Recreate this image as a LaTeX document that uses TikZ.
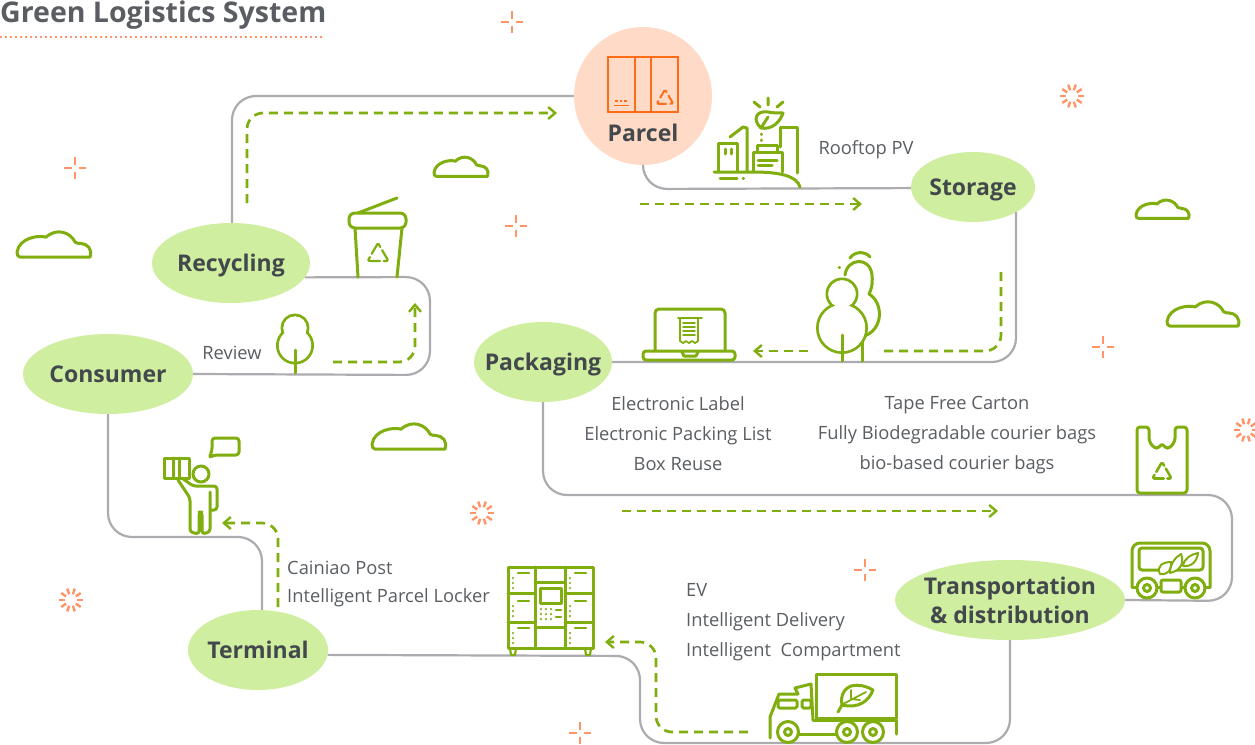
\documentclass[tikz,border=0pt]{standalone}
\usepackage{fontspec}
\setmainfont{Open Sans}
\usetikzlibrary{shapes.geometric,arrows.meta}
\definecolor{leafg}{HTML}{7FAE0E}
\definecolor{bubble}{HTML}{D0EE9F}
\definecolor{roadg}{HTML}{ABABB0}
\definecolor{inkd}{HTML}{43484D}
\definecolor{inkm}{HTML}{5A5E62}
\definecolor{sparko}{HTML}{FF9468}
\definecolor{boxo}{HTML}{FF6C17}
\definecolor{parcelbg}{HTML}{FFDAC6}
\tikzset{
  road/.style={draw=roadg,line width=2.2pt,rounded corners=24pt},
  flow/.style={draw=leafg,line width=2.7pt,dash pattern=on 9pt off 6pt,rounded corners=16pt,-{Straight Barb[length=7pt,width=12pt,line width=2.4pt]}},
  flowplain/.style={draw=leafg,line width=2.7pt,dash pattern=on 9pt off 6pt,rounded corners=16pt},
  stage/.style={ellipse,fill=bubble,inner xsep=-25pt,inner ysep=-12pt,text=inkd,align=center,font=\fontsize{23}{29}\selectfont\bfseries},
  oneline/.style={text height=17pt,text depth=0pt},
  note/.style={text=inkm,align=center,inner sep=0pt,font=\fontsize{18.3}{30}\selectfont},
  icon/.style={draw=leafg,line width=3pt,line join=round,line cap=round},
  sparkline/.style={draw=sparko,line width=2.4pt},
  cloudline/.style={draw=leafg,line width=3pt,line join=round,line cap=round}
}
\newcommand{\plusspark}[2]{\foreach \a in {0,90,180,270}{\draw[sparkline,shift={(#1,#2)},rotate=\a] (3.5,0) -- (11,0);}}
\newcommand{\burstspark}[2]{\foreach \a [count=\i] in {0,36,...,324}{\draw[sparkline,shift={(#1,#2)},rotate=\a] (6,0) -- (12,0);}}
\newcommand{\cloudshape}[4]{\begin{scope}[shift={(#1,#2)},xscale=#3/75,yscale=#4/30]
  \draw[cloudline] (3,29) -- (73,29) .. controls (76,21) and (70,15) .. (64,15) .. controls (62,15) and (60,15) .. (58,13.5) .. controls (54,4) and (40,-2) .. (29,8.5) .. controls (22,6) and (2,9) .. (0,24) .. controls (0,27) and (1,29) .. (3,29);
\end{scope}}
\newcommand{\recyc}[4]{\foreach \a in {0,120,240}{\draw[#4,shift={(#1,#2)},rotate=\a,rounded corners=1.5pt] (-.52*#3,-.1*#3) -- (0,-#3) -- (.19*#3,-.67*#3);}}
\newcommand{\treeoutline}[6]{\draw[icon] (#1,#2) circle[radius=#3]; \draw[icon] (#4,#5) circle[radius=#6];
  \fill[white] (#1,#2) circle[radius=#3-1.3]; \fill[white] (#4,#5) circle[radius=#6-1.3];}
\begin{document}
\begin{tikzpicture}[x=1pt,y=-1pt]
\useasboundingbox (0,0) rectangle (1255,744);
\fill[white] (0,0) rectangle (1255,744);
% title
\node[anchor=base west,inner sep=0pt,text=inkm,font=\fontsize{28.5}{30}\selectfont\bfseries] (title) at (0,22.5) {Green Logistics System};
\draw[draw=sparko,line width=2.2pt,dash pattern=on 2pt off 3pt] (0,37) -- (322,37);
% stages
\node[circle,fill=parcelbg,minimum size=138pt,inner sep=0pt] (parcel) at (643,96) {};
\node[stage,oneline,minimum width=124pt,minimum height=70pt] (storage) at (973,187) {Storage};
\node[stage,oneline,minimum width=158pt,minimum height=80pt] (recycling) at (231,263) {Recycling};
\node[stage,oneline,minimum width=170pt,minimum height=80pt] (consumer) at (108,374) {Consumer};
\node[stage,oneline,minimum width=138pt,minimum height=80pt] (packaging) at (543,362) {Packaging};
\node[stage,minimum width=230pt,minimum height=80pt] (transport) at (1010,600) {Transportation\\\& distribution};
\node[stage,oneline,minimum width=140pt,minimum height=80pt] (terminal) at (258,650) {Terminal};
\node[inner sep=0pt,text=inkd,font=\fontsize{23}{29}\selectfont\bfseries] (parcellabel) at (643,133) {Parcel};
% roads
\coordinate (r1) at (232,96);
\draw[road] (parcel.west) -- (r1) -- (r1 |- recycling.north);
\draw[road] (recycling.-11) -- (430,277) -- (430,375) -- (consumer.-0.7);
\coordinate (r2) at (262,537);
\draw[road] (consumer.south) -- (108,537) -- (r2) -- (r2 |- terminal.north);
\draw[road] (terminal.-4.96) -- (640,656) -- (640,743) -- (1010,743) -- (transport.south);
\draw[road] (transport.-0.5) -- (1232,601) -- (1232,495) -- (543,495) -- (packaging.south);
\coordinate (r3) at (1016,362);
\draw[road] (packaging.east) -- (r3) -- (r3 |- storage.-30);
\draw[road] (storage.181.85) -- (643,189) -- (parcel.south);
% flows
\coordinate (f1a) at (247,203); \coordinate (f1b) at (247,113); \coordinate (f1c) at (557,113);
\draw[flow] (f1a) -- (f1b) -- (f1c);
\coordinate (f2a) at (640,204); \coordinate (f2b) at (862,204);
\draw[flow] (f2a) -- (f2b);
\coordinate (f3a) at (1001,272); \coordinate (f3b) at (1001,351); \coordinate (f3c) at (878,351);
\draw[flowplain] (f3a) -- (f3b) -- (f3c);
\coordinate (f4a) at (808,351); \coordinate (f4b) at (753,351);
\draw[flow] (f4a) -- (f4b);
\coordinate (f5a) at (622,511); \coordinate (f5b) at (998,511);
\draw[flow] (f5a) -- (f5b);
\coordinate (f6a) at (748,732); \coordinate (f6b) at (656,732); \coordinate (f6c) at (656,642); \coordinate (f6d) at (605,642);
\draw[flow] (f6a) -- (f6b) -- (f6c) -- (f6d);
\coordinate (f7a) at (278,607); \coordinate (f7b) at (278,523); \coordinate (f7c) at (222,523);
\draw[flow] (f7a) -- (f7b) -- (f7c);
\coordinate (f8a) at (333,362); \coordinate (f8b) at (415,362); \coordinate (f8c) at (415,303);
\draw[flow] (f8a) -- (f8b) -- (f8c);
% labels
\node[note] (rooftop) at (866,149.5) {Rooftop PV};
\node[note] (review) at (232,353) {Review};
\node[note] (labels) at (678,434) {Electronic Label\\Electronic Packing List\\Box Reuse};
\node[note] (cartons) at (957,435) {Tape Free Carton\\Fully Biodegradable courier bags\\bio-based courier bags};
\node[note,align=left,anchor=west,font=\fontsize{18.3}{28}\selectfont] (cainiao) at (287,584) {Cainiao Post\\Intelligent Parcel Locker};
\node[note,align=left,anchor=west] (ev) at (686,622) {EV\\Intelligent Delivery\\Intelligent\ \ Compartment};
% parcel icon
\draw[draw=boxo,line width=2.8pt] (608,57) rectangle (678,112);
\draw[draw=boxo,line width=2.8pt] (635,57) -- (635,112) (651,57) -- (651,112);
\draw[draw=boxo,line width=2pt,dash pattern=on 2.5pt off 2pt] (615,101) -- (628,101);
\draw[draw=boxo,line width=1.8pt] (614,105.5) -- (629,105.5);
\recyc{665}{99}{9.5}{draw=boxo,line width=2pt}
% rooftop icon
\draw[icon] (718,172) -- (718,143) -- (737,143) -- (737,172);
\draw[icon] (725,149) -- (725,154) (731,149) -- (731,154);
\draw[icon] (730,137) -- (743,127) -- (747,128) -- (747,172);
\draw[icon] (753,172) -- (753,152) -- (782,152) -- (782,172);
\draw[icon] (757,152) -- (757,145) -- (777,145) -- (777,152);
\draw[icon] (758,160) -- (777,160) (758,165) -- (772,165);
\draw[icon] (780,147) -- (780,127) -- (797,127) -- (797,173);
\draw[icon] (714,172) -- (753,172) .. controls (780,172) and (797,176) .. (800,187);
\draw[icon] (720,178) -- (737,178) (743,178) -- (743.5,178);
\draw[icon] (768,98) -- (768,105) (754,102) -- (760,107) (783,102) -- (777,107);
\draw[icon] (761,128) .. controls (752,120) and (756,110) .. (768,112) .. controls (772,113) and (778,113) .. (783,113) .. controls (780,122) and (772,130) .. (761,128) -- (768,117);
\draw[icon] (761,134) -- (761,134.5) (761,140) -- (761,140.5);
% trash can
\draw[icon,rounded corners=6pt] (349,213) rectangle (406,228);
\draw[icon] (355,228) -- (358,277) (402,228) -- (397,277) (358,213) -- (397,198);
\recyc{378}{255}{12}{icon,line width=2.2pt}
% review tree
\treeoutline{295}{328}{13}{295}{345.5}{17.5}
\draw[icon] (295,350) -- (295,373);
% laptop
\draw[icon,rounded corners=4pt] (655,351) -- (655,309) -- (725,309) -- (725,351);
\draw[icon,rounded corners=3pt] (643,351) rectangle (735,360);
\draw[icon] (682,352) -- (684,356) -- (696,356) -- (698,352);
\draw[icon,line width=1.8pt] (678,318) -- (702,318) (680,318) -- (680,341) -- (683,343) -- (686,341) -- (689,343) -- (692,341) -- (695,343) -- (698,341) -- (698,318);
\draw[icon,line width=1.6pt] (683,323) -- (695,323) (683,327) -- (695,327) (683,331) -- (695,331) (683,335) -- (695,335);
% trees
\draw[icon] (845,275) .. controls (847,258) and (870,256) .. (872,275) .. controls (873,285) and (871,290) .. (869,294) .. controls (883,302) and (885,330) .. (862,337);
\draw[icon] (862,337) -- (862,361);
\draw[icon] (850,258) .. controls (855,251) and (865,251) .. (870,257);
\draw[icon] (839,267) -- (839.5,267);
\treeoutline{842}{294}{15}{842}{328}{24.5}
\draw[icon] (842,335) -- (842,361);
% bag
\draw[icon,rounded corners=3pt] (1137,493) -- (1137,427) -- (1149,427) -- (1149,441) -- (1154,448) -- (1159,448) -- (1162,443) -- (1165,448) -- (1170,448) -- (1175,441) -- (1175,427) -- (1187,427) -- (1187,493) -- cycle;
\recyc{1162}{473}{11}{icon,line width=2.6pt}
% vehicle
\draw[icon,rounded corners=8pt] (1132,587) -- (1132,543) -- (1210,543) -- (1210,587);
\draw[icon,rounded corners=3pt] (1139,570) -- (1139,548) -- (1203,548) -- (1203,570) -- cycle;
\draw[icon] (1132,587) -- (1137,587) (1157,587) -- (1185,587) (1205,587) -- (1210,587);
\draw[icon,rounded corners=2pt,fill=white] (1161,580) rectangle (1181,592);
\draw[icon,line width=1.8pt] (1143,570) -- (1148,570);
\foreach \p in {1147,1195}{\draw[icon,fill=white] (\p,588) circle[radius=10]; \draw[icon] (\p,588) circle[radius=3.5];}
\draw[icon,line width=2pt,fill=white] (1160,574) .. controls (1156,566) and (1163,562) .. (1171,562) .. controls (1172,570) and (1168,575) .. (1160,574);
\draw[icon,line width=2pt,fill=white] (1170,573) .. controls (1170,563) and (1176,557) .. (1181,554) .. controls (1184,562) and (1182,570) .. (1170,573);
\draw[icon,line width=2pt,fill=white] (1183,566) .. controls (1184,558) and (1192,554) .. (1198,553) .. controls (1197,561) and (1192,567) .. (1183,566);
% locker
\draw[icon] (508,567) rectangle (593,648);
\draw[icon] (535,567) -- (535,648) (565,567) -- (565,648);
\draw[icon] (508,593) -- (535,593) (508,622) -- (535,622) (565,593) -- (593,593) (565,622) -- (593,622) (535,582) -- (565,582) (535,627) -- (565,627);
\draw[icon,line width=2.2pt] (510,648) -- (511,655) -- (515,655) -- (516,648) (585,648) -- (586,655) -- (590,655) -- (591,648);
\draw[icon] (540,588) rectangle (561,603);
\foreach \cx in {513,570}{\foreach \cy in {573,601,628}{
  \draw[icon,line width=2.2pt] (\cx+5,\cy) -- (\cx+16,\cy);
  \draw[icon,line width=2.2pt] (\cx,\cy+5) -- (\cx,\cy+5.2) (\cx,\cy+10) -- (\cx,\cy+10.2) (\cx,\cy+15) -- (\cx,\cy+15.2);
}}
\foreach \kx in {541,546,551}{\foreach \ky in {609,614,619}{\draw[icon,line width=2.4pt] (\kx,\ky) -- (\kx,\ky+.2);}}
\draw[icon,line width=2.2pt] (556,610) -- (561,610) (556,617) -- (561,617);
% truck
\draw[icon] (816,718) -- (816,674) -- (896,674) -- (896,718) -- cycle;
\draw[icon] (770,738) -- (770,717) -- (779,694) -- (798,694) -- (795,688) -- (811,684) -- (813,720);
\draw[icon,rounded corners=1.5pt] (778,700) rectangle (797,708);
\draw[icon,rounded corners=1.5pt] (802,700) rectangle (811,708);
\draw[icon] (813,720) -- (895,720) (799,734) -- (836,734) (896,720) -- (896,734);
\foreach \p in {788,847,873}{\draw[icon,fill=white] (\p,732) circle[radius=10.5]; \draw[icon] (\p,732) circle[radius=3.5];}
\draw[icon] (838,712) -- (842,705) .. controls (840,695) and (845,688) .. (851,686) .. controls (858,684) and (866,686) .. (873,690) .. controls (869,700) and (860,709) .. (842,705);
\draw[icon,line width=1.8pt] (843,704) -- (866,692) (851,699) -- (851,690) (851,699) -- (860,700);
% person
\draw[icon] (201,474) circle[radius=8];
\draw[icon] (164,458) rectangle (189,478);
\draw[icon] (173,458) -- (173,478) (179,458) -- (179,478);
\draw[icon,rounded corners=3pt] (209,458) -- (212,451) -- (212,438) -- (239,438) -- (239,455) -- (214,455) -- cycle;
\draw[icon,rounded corners=3pt] (182,478) -- (193,486) -- (217,486) -- (217,510) -- (211,510);
\draw[icon,rounded corners=3pt] (178,480) -- (190,498) -- (190,532) -- (199,534) -- (199,512) -- (202,512) -- (202,534) -- (210,532) -- (210,492);
% sparks
\plusspark{512}{22}\plusspark{75}{168}\plusspark{516}{226}\plusspark{1103}{347}\plusspark{865}{570}\plusspark{580}{733}
\burstspark{1072}{96}\burstspark{482}{513}\burstspark{71}{600}\burstspark{1246}{430}
% clouds
\cloudshape{17}{229}{75}{29}\cloudshape{434}{155}{55}{22}\cloudshape{1136}{198}{54}{21}\cloudshape{372}{421}{75}{29}\cloudshape{1167}{299}{73}{28}
\end{tikzpicture}
\end{document}
